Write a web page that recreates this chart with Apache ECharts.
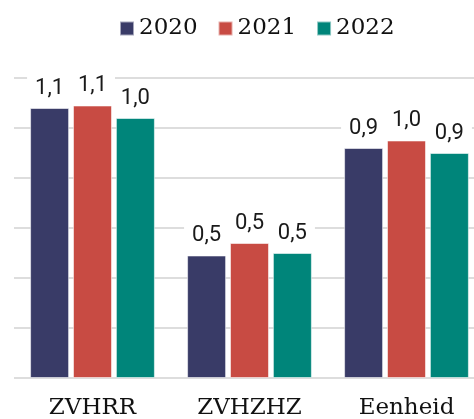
<!DOCTYPE html>
<html>
<head>
<meta charset="utf-8">
<script src="https://cdn.jsdelivr.net/npm/echarts@6/dist/echarts.min.js"></script>
<style>
  html, body { margin: 0; padding: 0; background: #fff; }
  #chart { width: 474px; height: 419px; }
</style>
</head>
<body>
<div id="chart"></div>
<script>
// Categories and yearly values
const categories = ['ZVHRR', 'ZVHZHZ', 'Eenheid'];
const years = ['2020', '2021', '2022'];
const values2020 = [1.08, 0.49, 0.92];
const values2021 = [1.09, 0.54, 0.95];
const values2022 = [1.04, 0.50, 0.90];
const colors = ['#393b67', '#c84b43', '#00857a'];

const seriesValues = [values2020, values2021, values2022];

// Dutch number format with one decimal
function fmt(v) {
  return (Math.round(v * 10) / 10).toFixed(1).replace('.', ',');
}

const chart = echarts.init(document.getElementById('chart'), null, { renderer: 'canvas' });

chart.setOption({
  animation: false,
  backgroundColor: '#ffffff',
  legend: {
    left: 114,
    top: 12,
    itemWidth: 14,
    itemHeight: 14,
    itemGap: 20,
    icon: 'rect',
    textStyle: { fontFamily: 'DejaVu Serif', fontSize: 23, color: '#111' },
    data: years
  },
  // plot area runs slightly past the right edge of the canvas
  grid: { left: 14, width: 471, top: 78, bottom: 41, containLabel: false, outerBoundsMode: 'none' },
  xAxis: {
    type: 'category',
    data: categories,
    axisLine: { show: false },
    axisTick: { show: false },
    axisLabel: { fontFamily: 'DejaVu Serif', fontSize: 23, color: '#111', margin: 19 }
  },
  yAxis: {
    type: 'value',
    min: 0,
    max: 1.2,
    interval: 0.2,
    axisLabel: { show: false },
    axisLine: { show: false },
    axisTick: { show: false },
    splitLine: { lineStyle: { color: '#dddddd', width: 2 } }
  },
  series: years.map((y, i) => ({
    name: y,
    type: 'bar',
    data: seriesValues[i],
    barWidth: 39,
    barGap: '10%',
    itemStyle: { color: colors[i], borderColor: 'rgba(255,255,255,0.55)', borderWidth: 1 },
    label: {
      show: true,
      position: 'top',
      distance: 4,
      formatter: p => fmt(p.value),
      fontFamily: 'Roboto',
      fontSize: 22,
      color: '#1a1a1a',
      backgroundColor: '#ffffff',
      padding: [6, 8, 5, 8]
    }
  }))
});
</script>
</body>
</html>
